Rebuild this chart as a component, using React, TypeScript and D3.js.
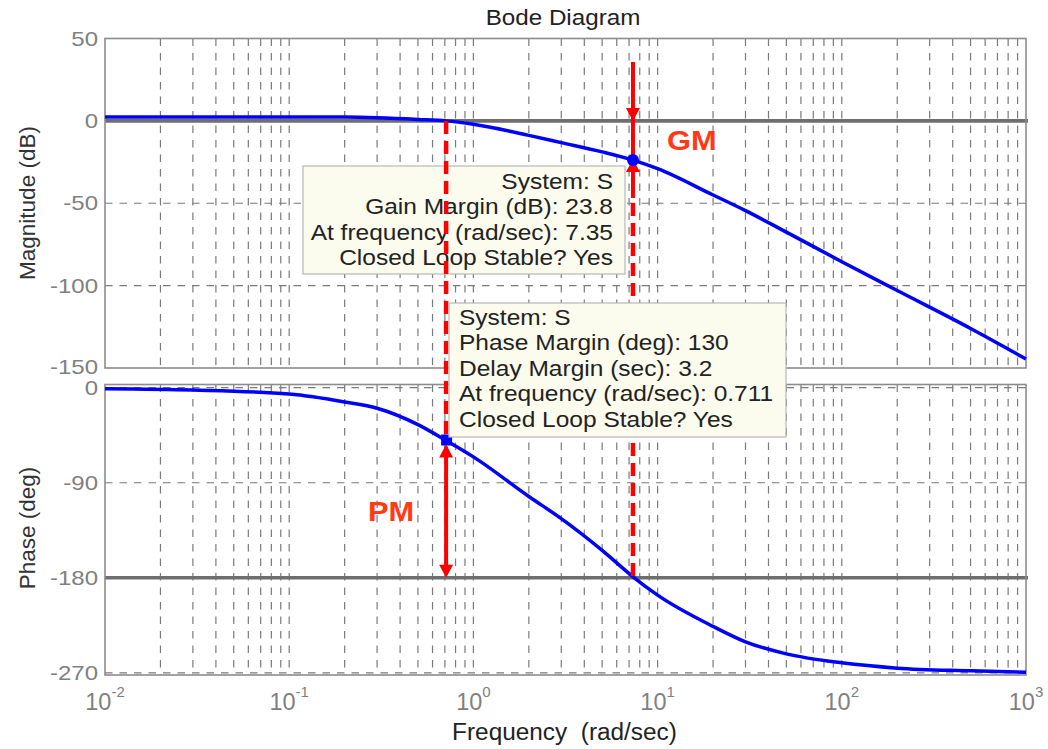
import * as d3 from "d3";

// frequency response
const freq = [0.01, 0.03, 0.1, 0.2, 0.3, 0.5, 0.711, 1, 2, 3, 5, 7.35, 10, 20, 30, 50, 100, 200, 500, 1000];
const magDb = [2.4, 2.4, 2.4, 2.3, 1.9, 0.9, 0, -2.1, -8.8, -13.2, -18.8, -23.8, -29, -45, -54.5, -67.5, -85.5, -103, -126, -144.5];
const phaseDeg = [-1, -2.2, -6, -13.5, -19.5, -35, -50, -65.5, -103, -124, -154, -179, -196.4, -226, -240.6, -252, -260.5, -265.5, -268, -269.4];

const magTicks = [50, 0, -50, -100, -150];
const phaseTicks = [0, -90, -180, -270];
const decades = [-2, -1, 0, 1, 2, 3];

const gmFreq = 7.35;
const gmDb = -23.8;
const pmFreq = 0.711;
const pmPhase = -50;

const gmLines = ["System: S", "Gain Margin (dB): 23.8", "At frequency (rad/sec): 7.35", "Closed Loop Stable? Yes"];
const pmLines = ["System: S", "Phase Margin (deg): 130", "Delay Margin (sec): 3.2", "At frequency (rad/sec): 0.711", "Closed Loop Stable? Yes"];

const FONT = "'Liberation Sans', Arial, Helvetica, sans-serif";
const GRID = "#7a7a7a";
const FRAME = "#8c8c8c";
const RED = "#ff0000";

function Txt({ x, y, sx = 1, size, anchor = "start", fill = "#222", weight = "normal", children }: any) {
    return (
        <text transform={`translate(${x},${y}) scale(${sx},1)`} fontSize={size} textAnchor={anchor}
            fill={fill} fontWeight={weight} fontFamily={FONT} style={{ whiteSpace: "pre" }}>
            {children}
        </text>
    );
}

function head(x: number, tip: number, dir: number) {
    // dir = 1 points down, -1 points up
    const b = tip - dir * 13;
    return `M${x},${tip}L${x - 7},${b}L${x + 7},${b}Z`;
}

export default function App() {
    const width = 1048, height = 749;
    const x = d3.scaleLog().domain([0.01, 1000]).range([105, 1026]);
    const yMag = d3.scaleLinear().domain([-150, 50]).range([368, 38.5]);
    const yPh = d3.scaleLinear().domain([-272, 3]).range([675, 384.5]);

    const minor: number[] = [];
    decades.slice(0, -1).forEach(d => {
        for (let k = 1; k <= 9; k++) {
            const v = k * Math.pow(10, d);
            if (v > 0.01) minor.push(v);
        }
    });

    const magLine = d3.line<number>()
        .x((_, i) => x(freq[i]))
        .y(d => yMag(d))
        .curve(d3.curveMonotoneX);
    const phLine = d3.line<number>()
        .x((_, i) => x(freq[i]))
        .y(d => yPh(d))
        .curve(d3.curveMonotoneX);

    const panels = [
        { y: yMag, top: 38.5, bottom: 368, dashed: [-50, -100], solid: 0 },
        { y: yPh, top: 384.5, bottom: 675, dashed: [0, -90, -270], solid: -180 },
    ];

    const xg = x(gmFreq), xp = x(pmFreq);

    return (
        <svg width={width} height={height} style={{ position: "absolute", left: 0, top: 0, background: "#fff" }}>
            {panels.map((p, i) => (
                <g key={i}>
                    {minor.map(v => (
                        <line key={v} x1={x(v)} x2={x(v)} y1={p.top} y2={p.bottom}
                            stroke={GRID} strokeWidth={1.2} strokeDasharray="7.5,7" />
                    ))}
                    {p.dashed.map(v => (
                        <line key={v} x1={105} x2={1026} y1={p.y(v)} y2={p.y(v)}
                            stroke={GRID} strokeWidth={1.2} strokeDasharray="7.5,7" />
                    ))}
                    <line x1={105} x2={1028} y1={p.y(p.solid)} y2={p.y(p.solid)} stroke="#6e6e6e" strokeWidth={3.6} />
                    <rect x={105} y={p.top} width={921} height={p.bottom - p.top} fill="none" stroke={FRAME} strokeWidth={1.6} />
                </g>
            ))}

            {magTicks.map(t => (
                <Txt key={t} x={98} y={yMag(t) + (t === -150 ? 6 : 7)} sx={1.2} size={20} anchor="end" fill="#808080">{t}</Txt>
            ))}
            {phaseTicks.map(t => (
                <Txt key={t} x={98} y={yPh(t) + 7} sx={1.2} size={20} anchor="end" fill="#808080">{t}</Txt>
            ))}
            {decades.map(d => (
                <text key={d} x={x(Math.pow(10, d))} y={710} textAnchor="middle" fill="#808080" fontFamily={FONT} fontSize={23.5}>
                    10<tspan fontSize={15} dy={-13}>{d}</tspan>
                </text>
            ))}

            <path d={magLine(magDb) || ""} fill="none" stroke="#0000ff" strokeWidth={3.5} />
            <path d={phLine(phaseDeg) || ""} fill="none" stroke="#0000ff" strokeWidth={3.5} />

            {/* gain margin datatip */}
            <rect x={303} y={166} width={322} height={108} fill="#fcfcee" stroke="#b8b8b8" strokeWidth={1.2} />
            {gmLines.map((s, i) => (
                <Txt key={s} x={613} y={188.5 + i * 25.5} sx={1.14} size={21.5} anchor="end">{s}</Txt>
            ))}

            {/* margin markers */}
            <line x1={xp} x2={xp} y1={yMag(0)} y2={yPh(pmPhase) - 4} stroke={RED} strokeWidth={4.5} strokeDasharray="13,7" />
            <line x1={xp} x2={xp} y1={yPh(pmPhase) + 6} y2={yPh(-180) - 8} stroke={RED} strokeWidth={4} />
            <path d={head(xp, yPh(pmPhase) + 4, -1)} fill={RED} />
            <path d={head(xp, yPh(-180), 1)} fill={RED} />

            <line x1={xg} x2={xg} y1={62} y2={198} stroke={RED} strokeWidth={4} />
            <line x1={xg} x2={xg} y1={203} y2={yPh(-180)} stroke={RED} strokeWidth={4.5} strokeDasharray="13,7" />
            <path d={head(xg, yMag(0), 1)} fill={RED} />
            <path d={head(xg, yMag(gmDb) - 1, -1)} fill={RED} />

            <circle cx={xg} cy={yMag(gmDb)} r={6} fill="#0000ff" />
            <rect x={xp - 5} y={yPh(pmPhase) - 6} width={11} height={11} fill="#0000ff" />

            {/* phase margin datatip */}
            <rect x={449} y={303} width={337} height={134} fill="#fcfcee" stroke="#b8b8b8" strokeWidth={1.2} />
            {pmLines.map((s, i) => (
                <Txt key={s} x={459} y={324.5 + i * 25.6} sx={1.14} size={21.5}>{s}</Txt>
            ))}

            <Txt x={667} y={150} sx={1.1} size={28} weight="bold" fill="#ff3a14">GM</Txt>
            <Txt x={368} y={521} sx={1.08} size={28.5} weight="bold" fill="#ff3a14">PM</Txt>

            <Txt x={563} y={25} sx={1.1} size={22} anchor="middle">Bode Diagram</Txt>
            <Txt x={564.5} y={740} sx={1.06} size={23} anchor="middle">Frequency  (rad/sec)</Txt>
            <g transform="translate(35,203) rotate(-90)">
                <text textAnchor="middle" fontFamily={FONT} fontSize={22.5} fill="#333">Magnitude (dB)</text>
            </g>
            <g transform="translate(35,528) rotate(-90)">
                <text textAnchor="middle" fontFamily={FONT} fontSize={22.5} fill="#333">Phase (deg)</text>
            </g>
        </svg>
    );
}
